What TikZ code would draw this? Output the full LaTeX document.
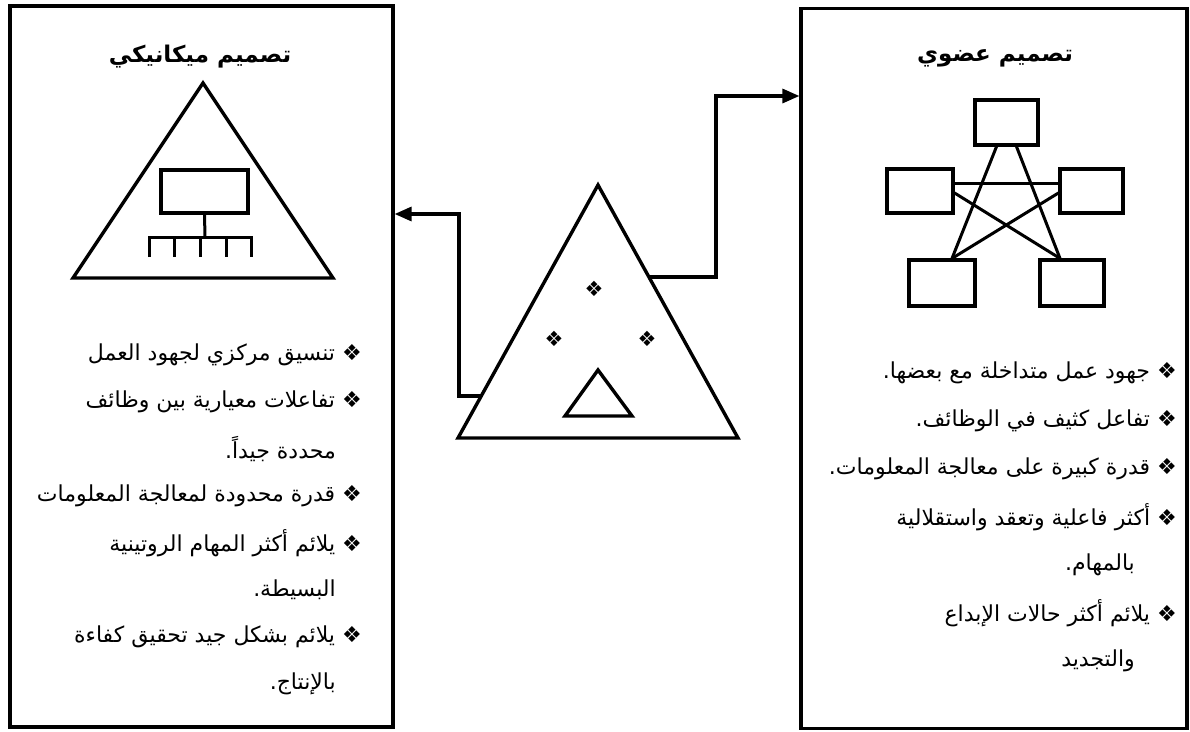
\documentclass[tikz,border=0pt]{standalone}
\usepackage{fontspec}
\usetikzlibrary{arrows.meta,calc}
\newfontfamily\arabicfont[Script=Arabic]{DejaVu Sans}
\TeXXeTstate=1

\begin{document}
\begin{tikzpicture}[x=1pt, y=-1pt,
  every node/.style={font=\arabicfont\fontsize{22}{26}\selectfont, inner sep=0pt},
  panel/.style={rectangle, draw, line width=3.2pt},
  outline/.style={draw, line width=3.4pt, line join=miter},
  unit/.style={rectangle, draw, line width=3.2pt, minimum width=65pt,
               minimum height=45pt},
  link/.style={line width=3pt},
  arr/.style={-{Triangle[length=17pt,width=14pt]}, line width=3.2pt},
  title/.style={font=\arabicfont\bfseries\fontsize{23}{27}\selectfont},
  item/.style={anchor=east},
  gem/.style={font=\arabicfont\fontsize{21}{21}\selectfont},
]
\useasboundingbox (0,0) rectangle (1190,731);

%% Panels
\node[panel, minimum width=383pt, minimum height=721pt] (M) at (201.5,366.5) {};
\node[panel, minimum width=386pt, minimum height=720pt] (O) at (994,368.5) {};

\node[title] (Mt) at (200,57) {\beginR تصميم ميكانيكي\endR};
\node[title] (Ot) at (995,58) {\beginR تصميم عضوي\endR};

%% Mechanistic: pyramid with hierarchy
\draw[outline] (203,83) -- (73,278) -- (333,278) -- cycle;
\node[unit, minimum width=87pt, minimum height=43pt] (boss) at (204.5,191.5) {};
\coordinate (bar) at (205,237);
\draw[link] (boss.south) -- (bar);
\draw[link] (149,257) -- (149,237) -- (251,237) -- (251,257);
\foreach \x in {174,200,226}
  \draw[link] (\x,237) -- (\x,257);

%% Organic: five linked units
\node[unit, minimum width=63pt] (T) at (1006.5,122.5) {};
\node[unit, minimum width=66pt, minimum height=44pt] (L) at (920,191) {};
\node[unit, minimum width=63pt, minimum height=44pt] (R) at (1091.5,191) {};
\node[unit, minimum width=66pt, minimum height=46pt] (BL) at (942,283) {};
\node[unit, minimum width=64pt, minimum height=46pt] (BR) at (1072,283) {};
\draw[link] ([xshift=-10pt]T.south) -- ([xshift=10pt]BL.north);
\draw[link] ([xshift=10pt]T.south) -- ([xshift=-12pt]BR.north);
\draw[link] ([yshift=8pt]L.east) -- ([yshift=8pt]R.west);
\draw[link] ([yshift=-2pt]L.east) -- ([xshift=-12pt]BR.north);
\draw[link] ([yshift=-2pt]R.west) -- ([xshift=10pt]BL.north);

%% Centre pyramid
\coordinate (A) at (598,185);
\coordinate (B) at (458,438);
\coordinate (C) at (738,438);
\draw[outline] (A) -- (B) -- (C) -- cycle;
\draw[outline] (598,370) -- (565,416) -- (632,416) -- cycle;
\node[gem] (g1) at (594,289) {❖};
\node[gem] (g2) at (554,339) {❖};
\node[gem] (g3) at (647,339) {❖};

%% Arrows
\coordinate (sL) at ($(A)!0.834!(B)$);
\coordinate (kL) at (459,214);
\draw[arr] (sL) -| (kL) -- (kL -| M.east);
\coordinate (sR) at ($(A)!0.364!(C)$);
\coordinate (kR) at (716,96);
\draw[arr] (sR) -| (kR) -- (kR -| O.west);

%% Mechanistic features
\node[item] (m1) at (362,355) {\beginR ❖ تنسيق مركزي لجهود العمل\endR};
\node[item] (m2) at (362,402) {\beginR ❖ تفاعلات معيارية بين وظائف\endR};
\node[item] (m3) at (336,449) {\beginR محددة جيداً.\endR};
\node[item] (m4) at (362,496) {\beginR ❖ قدرة محدودة لمعالجة المعلومات\endR};
\node[item] (m5) at (362,543) {\beginR ❖ يلائم أكثر المهام الروتينية\endR};
\node[item] (m6) at (336,590) {\beginR البسيطة.\endR};
\node[item] (m7) at (362,637) {\beginR ❖ يلائم بشكل جيد تحقيق كفاءة\endR};
\node[item] (m8) at (336,684) {\beginR بالإنتاج.\endR};

%% Organic features
\node[item] (o1) at (1177,373) {\beginR ❖ جهود عمل متداخلة مع بعضها.\endR};
\node[item] (o2) at (1177,421) {\beginR ❖ تفاعل كثيف في الوظائف.\endR};
\node[item] (o3) at (1177,469) {\beginR ❖ قدرة كبيرة على معالجة المعلومات.\endR};
\node[item] (o4) at (1177,517) {\beginR ❖ أكثر فاعلية وتعقد واستقلالية\endR};
\node[item] (o5) at (1135,565) {\beginR بالمهام.\endR};
\node[item] (o6) at (1177,613) {\beginR ❖ يلائم أكثر حالات الإبداع\endR};
\node[item] (o7) at (1135,661) {\beginR والتجديد\endR};

\end{tikzpicture}
\end{document}
